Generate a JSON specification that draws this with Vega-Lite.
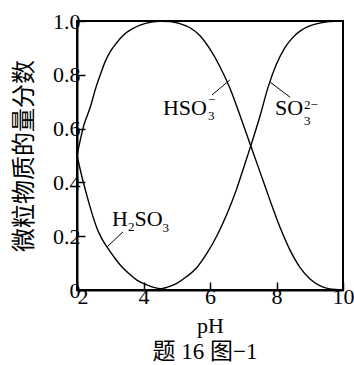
{
  "$schema": "https://vega.github.io/schema/vega-lite/v6.json",
  "width": 266,
  "height": 269,
  "autosize": {"type": "none"},
  "padding": {"left": 77, "top": 21, "right": 11, "bottom": 75},
  "background": "white",
  "config": {
    "view": {"stroke": "black", "strokeWidth": 2},
    "font": "Liberation Serif"
  },
  "title": {
    "text": "题 16 图−1",
    "orient": "bottom",
    "font": "Liberation Serif, Noto Sans CJK SC",
    "fontSize": 23,
    "fontWeight": "normal",
    "color": "black",
    "offset": 5,
    "dx": -5
  },
  "datasets": {
    "curves": [
      {"species": "H2SO3", "pH": 2.0, "value": 0.5},
      {"species": "H2SO3", "pH": 2.15, "value": 0.42},
      {"species": "H2SO3", "pH": 2.3, "value": 0.35},
      {"species": "H2SO3", "pH": 2.45, "value": 0.285},
      {"species": "H2SO3", "pH": 2.6, "value": 0.23},
      {"species": "H2SO3", "pH": 2.75, "value": 0.19},
      {"species": "H2SO3", "pH": 2.9, "value": 0.16},
      {"species": "H2SO3", "pH": 3.1, "value": 0.125},
      {"species": "H2SO3", "pH": 3.3, "value": 0.093},
      {"species": "H2SO3", "pH": 3.55, "value": 0.062},
      {"species": "H2SO3", "pH": 3.8, "value": 0.037},
      {"species": "H2SO3", "pH": 4.1, "value": 0.019},
      {"species": "H2SO3", "pH": 4.4, "value": 0.007},
      {"species": "H2SO3", "pH": 4.7, "value": 0.002},
      {"species": "HSO3", "pH": 2.0, "value": 0.5},
      {"species": "HSO3", "pH": 2.2, "value": 0.61},
      {"species": "HSO3", "pH": 2.4, "value": 0.68},
      {"species": "HSO3", "pH": 2.55, "value": 0.745},
      {"species": "HSO3", "pH": 2.7, "value": 0.8},
      {"species": "HSO3", "pH": 2.85, "value": 0.85},
      {"species": "HSO3", "pH": 3.0, "value": 0.886},
      {"species": "HSO3", "pH": 3.2, "value": 0.92},
      {"species": "HSO3", "pH": 3.4, "value": 0.948},
      {"species": "HSO3", "pH": 3.65, "value": 0.97},
      {"species": "HSO3", "pH": 3.9, "value": 0.985},
      {"species": "HSO3", "pH": 4.2, "value": 0.995},
      {"species": "HSO3", "pH": 4.5, "value": 0.999},
      {"species": "HSO3", "pH": 4.8, "value": 0.998},
      {"species": "HSO3", "pH": 5.1, "value": 0.99},
      {"species": "HSO3", "pH": 5.4, "value": 0.975},
      {"species": "HSO3", "pH": 5.7, "value": 0.945},
      {"species": "HSO3", "pH": 6.0, "value": 0.895},
      {"species": "HSO3", "pH": 6.3, "value": 0.83},
      {"species": "HSO3", "pH": 6.6, "value": 0.75},
      {"species": "HSO3", "pH": 6.9, "value": 0.65},
      {"species": "HSO3", "pH": 7.2, "value": 0.545},
      {"species": "HSO3", "pH": 7.5, "value": 0.44},
      {"species": "HSO3", "pH": 7.8, "value": 0.335},
      {"species": "HSO3", "pH": 8.1, "value": 0.235},
      {"species": "HSO3", "pH": 8.4, "value": 0.15},
      {"species": "HSO3", "pH": 8.7, "value": 0.085},
      {"species": "HSO3", "pH": 9.0, "value": 0.042},
      {"species": "HSO3", "pH": 9.3, "value": 0.016},
      {"species": "HSO3", "pH": 9.6, "value": 0.004},
      {"species": "HSO3", "pH": 10.0, "value": 0.0},
      {"species": "SO3", "pH": 4.4, "value": 0.002},
      {"species": "SO3", "pH": 4.7, "value": 0.01},
      {"species": "SO3", "pH": 5.0, "value": 0.025},
      {"species": "SO3", "pH": 5.3, "value": 0.05},
      {"species": "SO3", "pH": 5.6, "value": 0.083},
      {"species": "SO3", "pH": 5.9, "value": 0.135},
      {"species": "SO3", "pH": 6.2, "value": 0.2},
      {"species": "SO3", "pH": 6.5, "value": 0.28},
      {"species": "SO3", "pH": 6.8, "value": 0.375},
      {"species": "SO3", "pH": 7.0, "value": 0.45},
      {"species": "SO3", "pH": 7.25, "value": 0.545},
      {"species": "SO3", "pH": 7.5, "value": 0.645},
      {"species": "SO3", "pH": 7.75, "value": 0.755},
      {"species": "SO3", "pH": 8.0, "value": 0.84},
      {"species": "SO3", "pH": 8.25, "value": 0.9},
      {"species": "SO3", "pH": 8.5, "value": 0.94},
      {"species": "SO3", "pH": 8.75, "value": 0.966},
      {"species": "SO3", "pH": 9.0, "value": 0.982},
      {"species": "SO3", "pH": 9.3, "value": 0.992},
      {"species": "SO3", "pH": 9.6, "value": 0.998},
      {"species": "SO3", "pH": 10.0, "value": 1.0}
    ],
    "leaders": [
      {"x1": 2.902, "y1": 0.16, "x2": 3.383, "y2": 0.216},
      {"x1": 6.06, "y1": 0.725, "x2": 6.6, "y2": 0.781},
      {"x1": 8.406, "y1": 0.717, "x2": 7.805, "y2": 0.773}
    ],
    "mainText": [
      {"t": "H", "x": 3.053, "y": 0.238},
      {"t": "SO", "x": 3.729, "y": 0.238},
      {"t": "HSO", "x": 4.586, "y": 0.651},
      {"t": "SO", "x": 7.955, "y": 0.651}
    ],
    "subText": [
      {"t": "2", "x": 3.534, "y": 0.219},
      {"t": "3", "x": 4.574, "y": 0.216},
      {"t": "3", "x": 5.94, "y": 0.632},
      {"t": "3", "x": 8.827, "y": 0.613}
    ],
    "supText": [
      {"t": "−", "x": 5.94, "y": 0.691},
      {"t": "2−", "x": 8.827, "y": 0.673}
    ]
  },
  "layer": [
    {
      "data": {"name": "curves"},
      "mark": {"type": "line", "interpolate": "monotone", "color": "black", "strokeWidth": 1.4},
      "encoding": {
        "x": {
          "field": "pH",
          "type": "quantitative",
          "scale": {"domain": [2, 10], "nice": false, "zero": false},
          "axis": {
            "values": [2, 3, 4, 5, 6, 7, 8, 9, 10],
            "labelExpr": "datum.value % 2 == 0 ? datum.label : ''",
            "labelAlign": {"condition": {"test": "datum.value == 2", "value": "left"}, "value": "center"},
            "title": "pH",
            "titleFont": "Liberation Serif",
            "titleFontSize": 22,
            "titleFontWeight": "normal",
            "titleColor": "black",
            "titlePadding": 8,
            "labelFont": "Liberation Serif",
            "labelFontSize": 22,
            "labelColor": "black",
            "labelFlush": false,
            "labelPadding": 4,
            "tickColor": "black",
            "tickSize": -8,
            "tickWidth": 1.5,
            "domainColor": "black",
            "domainWidth": 2,
            "grid": false
          }
        },
        "y": {
          "field": "value",
          "type": "quantitative",
          "scale": {"domain": [0, 1], "nice": false},
          "axis": {
            "values": [0, 0.1, 0.2, 0.3, 0.4, 0.5, 0.6, 0.7, 0.8, 0.9, 1.0],
            "labelExpr": "round(datum.value*10) % 2 == 0 ? (datum.value == 0 ? '0' : format(datum.value, '.1f')) : ''",
            "title": "微粒物质的量分数",
            "titleFont": "Noto Sans CJK SC",
            "titleFontSize": 24,
            "titleFontWeight": "normal",
            "titleColor": "black",
            "titlePadding": 16,
            "labelFont": "Liberation Serif",
            "labelFontSize": 22,
            "labelColor": "black",
            "labelFlush": false,
            "labelPadding": 5,
            "tickColor": "black",
            "tickSize": -8,
            "tickWidth": 1.5,
            "domainColor": "black",
            "domainWidth": 2,
            "grid": false
          }
        },
        "detail": {"field": "species"}
      }
    },
    {
      "data": {"name": "leaders"},
      "mark": {"type": "rule", "color": "black", "strokeWidth": 1},
      "encoding": {
        "x": {"field": "x1", "type": "quantitative"},
        "y": {"field": "y1", "type": "quantitative"},
        "x2": {"field": "x2"},
        "y2": {"field": "y2"}
      }
    },
    {
      "data": {"name": "mainText"},
      "mark": {"type": "text", "font": "Liberation Serif", "fontSize": 22, "align": "left", "baseline": "alphabetic", "color": "black"},
      "encoding": {
        "x": {"field": "x", "type": "quantitative"},
        "y": {"field": "y", "type": "quantitative"},
        "text": {"field": "t"}
      }
    },
    {
      "data": {"name": "subText"},
      "mark": {"type": "text", "font": "Liberation Serif", "fontSize": 13, "align": "left", "baseline": "alphabetic", "color": "black"},
      "encoding": {
        "x": {"field": "x", "type": "quantitative"},
        "y": {"field": "y", "type": "quantitative"},
        "text": {"field": "t"}
      }
    },
    {
      "data": {"name": "supText"},
      "mark": {"type": "text", "font": "Liberation Serif", "fontSize": 13, "align": "left", "baseline": "alphabetic", "color": "black"},
      "encoding": {
        "x": {"field": "x", "type": "quantitative"},
        "y": {"field": "y", "type": "quantitative"},
        "text": {"field": "t"}
      }
    }
  ]
}
